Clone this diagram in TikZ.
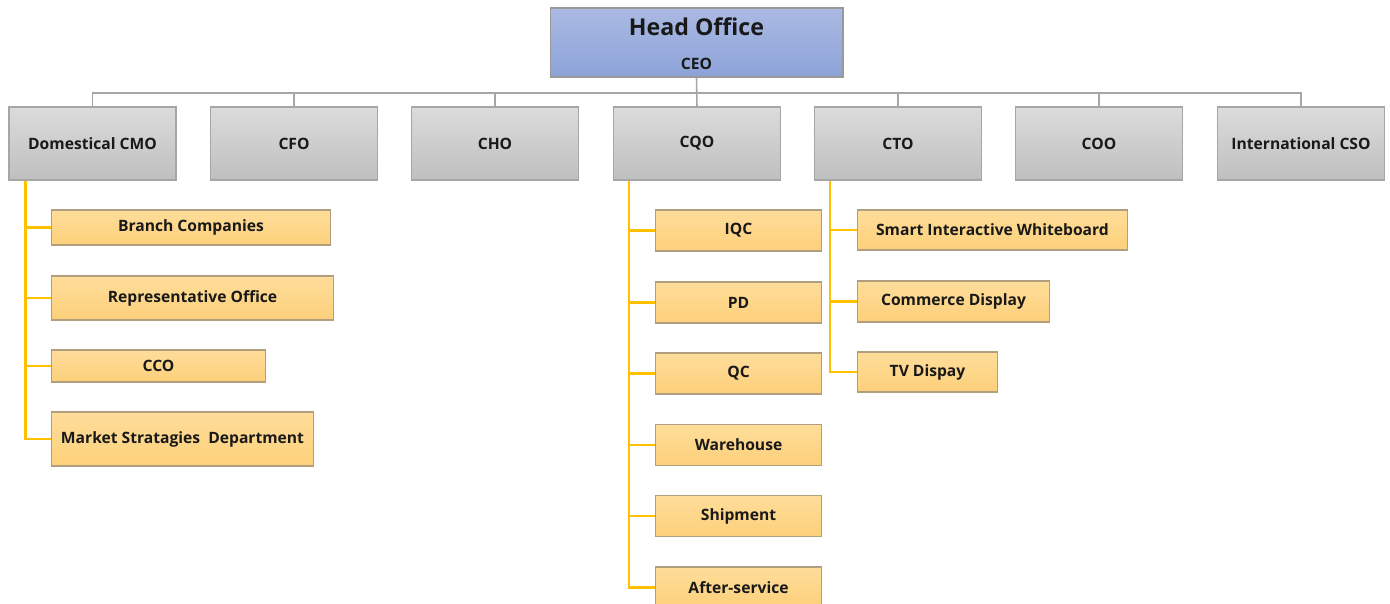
\documentclass[tikz,border=0pt]{standalone}
\usepackage{fontspec}
\setmainfont{Open Sans}
\definecolor{headtop}{HTML}{ABBAE3}
\definecolor{headbot}{HTML}{8CA2D8}
\definecolor{depttop}{HTML}{FEDD9A}
\definecolor{deptbot}{HTML}{FDD07A}
\definecolor{deptedge}{HTML}{B09E7E}
\definecolor{ylinec}{HTML}{FFC000}
\begin{document}
\begin{tikzpicture}[x=0.02cm,y=-0.02cm,
    every node/.style={font=\bfseries\fontsize{8.9}{10}\selectfont,text=black!90,inner sep=0pt},
    headbox/.style={draw=black!40,line width=0.6pt,top color=headtop,bottom color=headbot,minimum width=5.86cm,minimum height=1.38cm},
    chiefbox/.style={draw=black!35,line width=0.6pt,top color=black!14,bottom color=black!25,minimum width=3.34cm,minimum height=1.46cm},
    deptbox/.style={draw=deptedge,line width=0.6pt,top color=depttop,bottom color=deptbot,minimum height=0.82cm,anchor=west},
    grayline/.style={draw=black!35,line width=0.9pt},
    yline/.style={draw=ylinec,line width=1.3pt}]
      \useasboundingbox (0,0) rectangle (1390,604);
      \node[headbox] (head) at (696.5,42.5) {};
      \node (title) at (696.5,27) {\fontsize{13.2}{15}\selectfont Head Office};
      \node (ceo) at (696.5,64) {CEO};
      \coordinate (bus) at (697,93);
      \node[chiefbox] (cmo) at (92.5,143.5) {Domestical CMO};
      \node[chiefbox] (cfo) at (294,143.5) {CFO};
      \node[chiefbox] (cho) at (495,143.5) {CHO};
      \node[chiefbox] (cqo) at (697,143.5) {CQO};
      \node[chiefbox] (cto) at (898,143.5) {CTO};
      \node[chiefbox] (coo) at (1099,143.5) {COO};
      \node[chiefbox] (cso) at (1301,143.5) {International CSO};
      \draw[grayline] (head.south) -- (cqo.north);
      \foreach \n in {cmo,cfo,cho,cto,coo,cso}
        \draw[grayline] (\n.north) |- (bus);
      \node[deptbox,minimum width=5.58cm,minimum height=0.70cm] (branch) at (51,227.5) {Branch Companies};
      \node[deptbox,minimum width=5.64cm,minimum height=0.88cm] (repr) at (51,298) {Representative Office};
      \node[deptbox,minimum width=4.28cm,minimum height=0.64cm] (cco) at (51,366) {CCO};
      \node[deptbox,minimum width=5.24cm,minimum height=1.08cm] (market) at (51,439) {Market Stratagies\ \ Department};
      \coordinate (cmotrunk) at ([xshift=0.34cm]cmo.south west);
      \draw[yline] (cmotrunk) |- (market.west);
      \foreach \n in {branch,repr,cco}
        \draw[yline] (\n.west) -- (\n.west -| cmotrunk);
      \node[deptbox,minimum width=3.32cm] (iqc) at (655,230.5) {IQC};
      \node[deptbox,minimum width=3.32cm] (pd) at (655,302.5) {PD};
      \node[deptbox,minimum width=3.32cm] (qc) at (655,373.5) {QC};
      \node[deptbox,minimum width=3.32cm] (wareh) at (655,445) {Warehouse};
      \node[deptbox,minimum width=3.32cm] (ship) at (655,516) {Shipment};
      \node[deptbox,minimum width=3.32cm] (after) at (655,587.5) {After-service};
      \coordinate (cqotrunk) at ([xshift=0.32cm]cqo.south west);
      \draw[yline] (cqotrunk) |- (after.west);
      \foreach \n in {iqc,pd,qc,wareh,ship}
        \draw[yline] (\n.west) -- (\n.west -| cqotrunk);
      \node[deptbox,minimum width=5.40cm,minimum height=0.80cm] (smart) at (857,230) {Smart Interactive Whiteboard};
      \node[deptbox,minimum width=3.84cm] (commerce) at (857,301.5) {Commerce Display};
      \node[deptbox,minimum width=2.80cm,minimum height=0.80cm] (tvd) at (857,372) {TV Dispay};
      \coordinate (ctotrunk) at ([xshift=0.32cm]cto.south west);
      \draw[yline] (ctotrunk) |- (tvd.west);
      \foreach \n in {smart,commerce}
        \draw[yline] (\n.west) -- (\n.west -| ctotrunk);
\end{tikzpicture}
\end{document}
